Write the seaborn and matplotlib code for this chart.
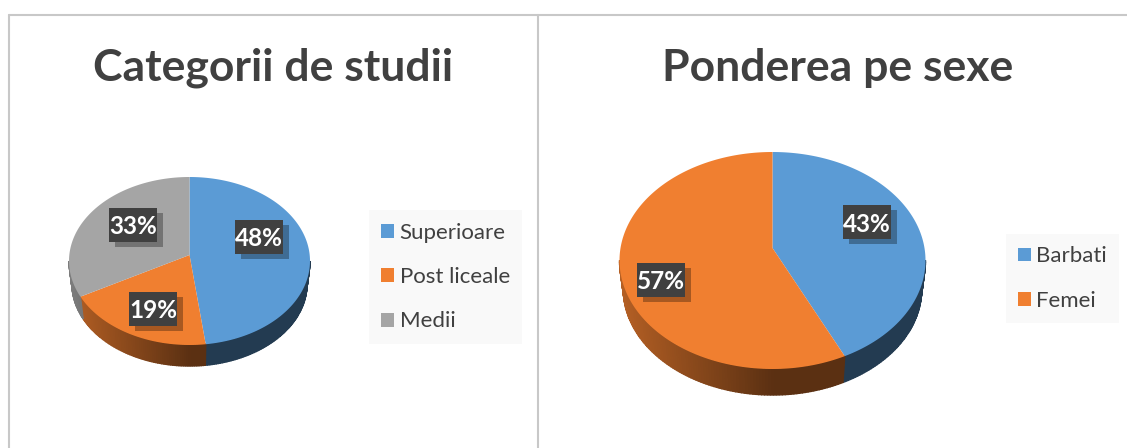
import numpy as np
import matplotlib
matplotlib.use("Agg")
import matplotlib.pyplot as plt
from matplotlib.lines import Line2D
from matplotlib.patches import Rectangle
from matplotlib.path import Path
from matplotlib.transforms import Affine2D
from matplotlib.colors import to_rgb
import seaborn as sns

W, H = 1127, 448
sns.set_theme(style="white")
plt.rcParams["font.family"] = ["Lato", "DejaVu Sans"]

TEXT = "#404040"
study_title = "Categorii de studii"
study_labels = ["Superioare", "Post liceale", "Medii"]
study_values = [48, 19, 33]
study_colors = sns.color_palette(["#5B9BD5", "#F07F30", "#A5A5A5"])
sex_title = "Ponderea pe sexe"
sex_labels = ["Barbati", "Femei"]
sex_values = [43, 57]
sex_colors = sns.color_palette(["#5B9BD5", "#F07F30"])


def fx(px):
    return px / W


def fy(py):
    return 1 - py / H


def shade(base, x):
    t = np.clip(-x, 0, 1)
    f = 0.38 + 0.37 * t
    return tuple(c * f for c in to_rgb(base))


def warp(x, y, a):
    # tilted-view projection: unit circle stays the unit circle, centre moves up by a
    den = 1 + a * y
    return np.sqrt(1 - a * a) * x / den, (y + a) / den


def pie3d(fig, values, colors, cx, cy, rx, ry, depth, apex, label_px, title, title_x,
          labels, leg_pos):
    ax = fig.add_axes([fx(cx - 1.25 * rx), fy(cy + 1.5 * ry), 2.5 * rx / W, 3 * ry / H])
    ax.patch.set_alpha(0)
    d = depth / ry
    a_tilt = (cy - apex) / ry
    k = 0.975
    d0 = 1 + d - k
    side_start = np.degrees(np.arcsin(a_tilt))
    # side wall, from the slice boundaries
    bounds = np.cumsum([0] + list(values)) / sum(values) * 360
    for a, b, col in zip(bounds[:-1], bounds[1:], colors):
        lo, hi = max(a, 90 + side_start), min(b, 270 - side_start)
        if hi <= lo:
            continue
        edges = np.linspace(lo, hi, int(hi - lo) + 2)
        for e0, e1 in zip(edges[:-1], edges[1:]):
            th = np.radians([e0, e1])
            xs, ys = warp(np.sin(th), np.cos(th), a_tilt)
            c = shade(col, xs.mean())
            ax.fill([xs[0], xs[1], k * xs[1], k * xs[0]],
                    [ys[0], ys[1], k * ys[1] - d0, k * ys[0] - d0],
                    color=c, lw=1.0, zorder=1)
    wedges, _ = ax.pie(values, colors=colors, startangle=90, counterclock=False,
                       radius=1, wedgeprops={"linewidth": 0, "zorder": 2})
    ax.set_aspect("auto")
    ax.set_xlim(-1.25, 1.25)
    ax.set_ylim(-1.5, 1.5)
    for w in wedges:
        poly = w.get_path().to_polygons(Affine2D().scale(2000), closed_only=False)[0] / 2000
        px, py = warp(poly[:, 0], poly[:, 1], a_tilt)
        w._path = Path(np.column_stack([px, py]))
    bw, bh = 48 / rx, 34 / ry
    sx, sy = 6 / rx, 5 / ry
    for val, (lx, ly) in zip(values, label_px):
        x = (lx - cx) / rx
        y = (cy - ly) / ry
        ax.add_patch(Rectangle((x - bw / 2 + sx, y - bh / 2 - sy), bw, bh, fc="black",
                               ec="none", alpha=0.3, zorder=3))
        ax.add_patch(Rectangle((x - bw / 2, y - bh / 2), bw, bh, fc="#404040", ec="none",
                               zorder=4))
        ax.text(x, y, f"{val}%", color="white", fontsize=17.5, fontweight="bold",
                ha="center", va="center_baseline", zorder=5)
    fig.text(fx(title_x), fy(68), title, color=TEXT, fontsize=32, fontweight="bold",
             ha="center", va="center")
    fig.legend(wedges, labels, loc="center", bbox_to_anchor=(fx(leg_pos[0]), fy(leg_pos[1])),
               frameon=True, facecolor="#F9F9F9", edgecolor="none", framealpha=1, fancybox=False,
               fontsize=16.0, labelcolor=TEXT, handlelength=0.58, handleheight=0.58,
               handletextpad=0.25, labelspacing=1.1, borderpad=0.55, borderaxespad=0)


fig = plt.figure(figsize=(W / 100, H / 100), dpi=100, facecolor="white")
for xs, ys in [((9, 9), (448, 15)), ((9, 1127), (15, 15)), ((537.5, 537.5), (15, 448))]:
    fig.add_artist(Line2D([fx(v) for v in xs], [fy(v) for v in ys], color="#C8C8C8", lw=1.5))

pie3d(fig, study_values, study_colors, 189.5, 261, 120.5, 84, 21, 255,
      [(259, 237), (153, 309), (133, 225)], study_title, 273.5, study_labels, (445.5, 277))
pie3d(fig, sex_values, sex_colors, 772.5, 260.5, 153, 108.5, 26, 248,
      [(867, 222), (660.5, 279.5)], sex_title, 838, sex_labels, (1062.5, 278.5))

fig.savefig("out.png", dpi=100, facecolor="white")
